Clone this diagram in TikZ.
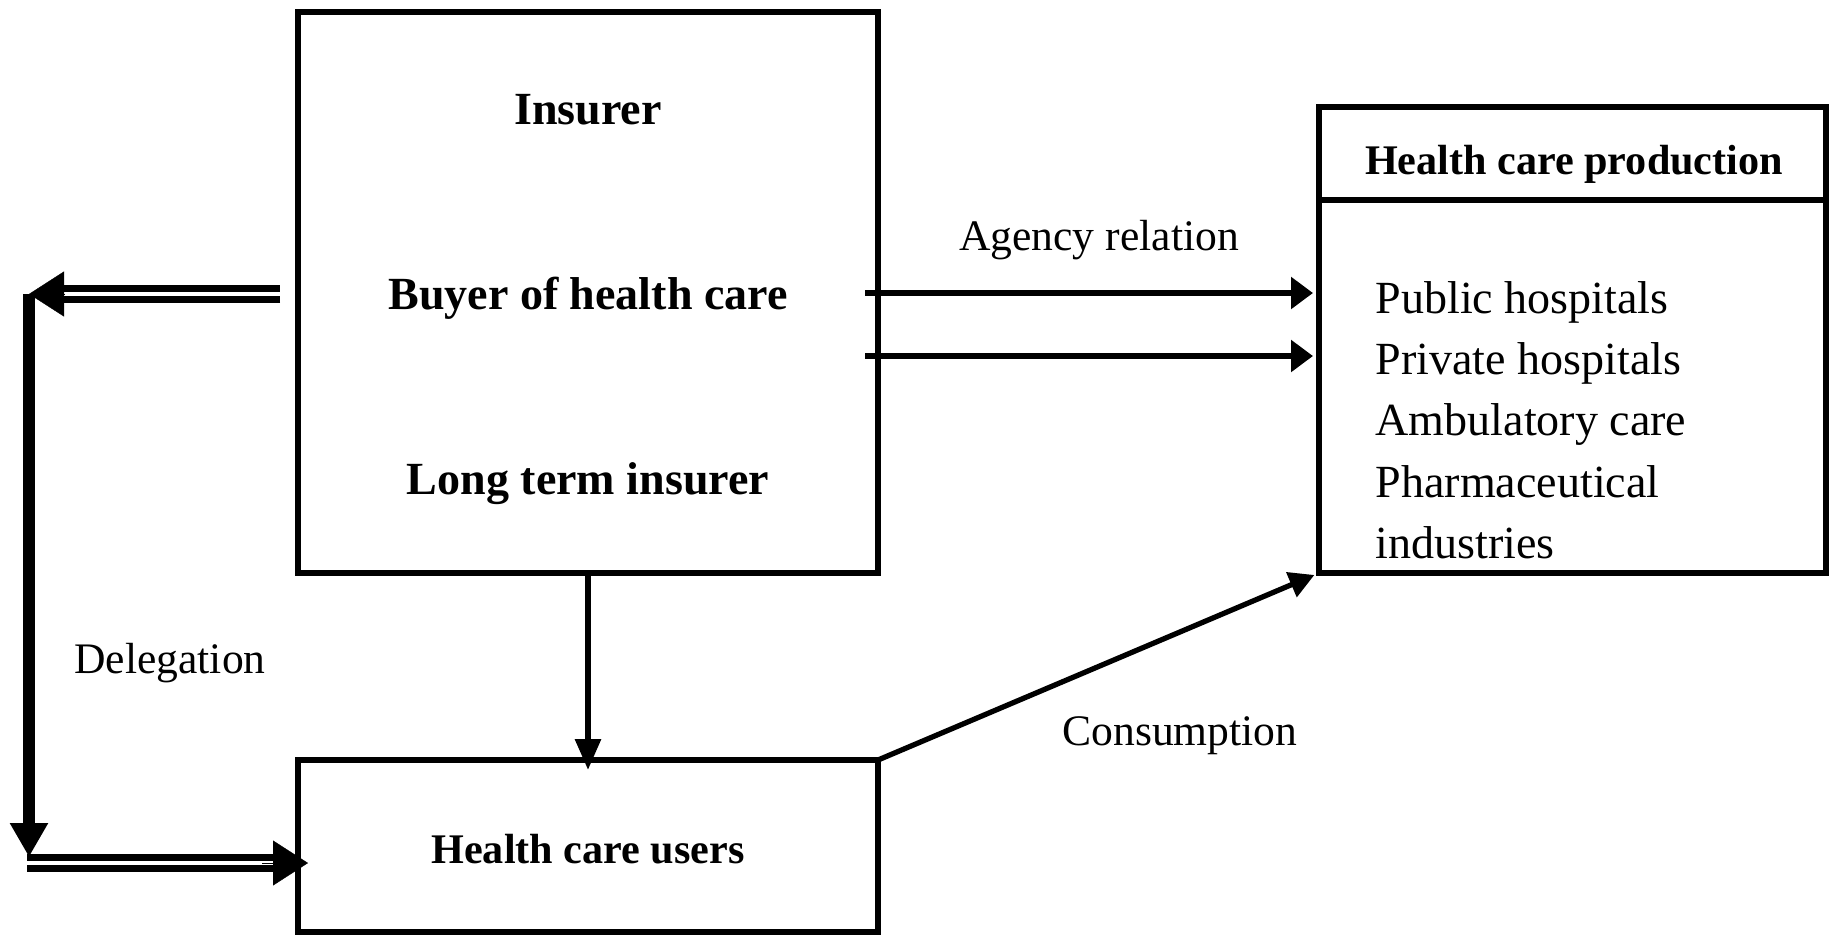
\documentclass[tikz,border=0pt]{standalone}
\usepackage{fontspec}
\setmainfont{Liberation Serif}
\usetikzlibrary{arrows.meta}

\begin{document}
\begin{tikzpicture}[x=0.1mm,y=-0.1mm,
  box/.style={draw,line width=1.6pt,inner sep=0pt,outer sep=0pt},
  title/.style={font=\fontsize{13.1}{16}\selectfont\bfseries,anchor=base,inner sep=0pt},
  subtitle/.style={font=\fontsize{12}{15}\selectfont\bfseries,anchor=base,inner sep=0pt},
  lbl/.style={font=\fontsize{12.4}{15}\selectfont,anchor=base,inner sep=0pt},
  arr/.style={line width=1.7pt,-{Triangle[length=2.2mm,width=3.1mm]}},
  dline/.style={double,line width=1.8pt,double distance=1.3pt},
  tip/.style={line width=0.1pt,-{Triangle[length=3.5mm,width=4.5mm]}}]
\useasboundingbox (0,0) rectangle (1829,934);
% boxes
\node[box,minimum width=58mm,minimum height=56.1mm] (insurer) at (588,292.5) {};
\node[box,minimum width=58mm,minimum height=17.2mm] (users) at (588,846) {};
\node[box,minimum width=50.7mm,minimum height=46.6mm] (prod) at (1572.5,340) {};
\draw[line width=1.6pt] (prod.west |- 0,200) -- (prod.east |- 0,200);
% texts
\node[title] (ins) at (588,124) {Insurer};
\node[title] (buyer) at (588,309) {Buyer of health care};
\node[title] (lterm) at (588,494) {Long term insurer};
\node[subtitle] (usr) at (588,863) {Health care users};
\node[subtitle] (prodtitle) at (1574,174) {Health care production};
\node[lbl,anchor=north west,align=left,font=\fontsize{13.1}{17.4}\selectfont] (plist) at (1375,281)
  {Public hospitals\\Private hospitals\\Ambulatory care\\Pharmaceutical\\industries};
\node[lbl] (agency) at (1099,250) {Agency relation};
\node[lbl] (cons) at (1180,745) {Consumption};
\node[lbl] (deleg) at (170,673) {Delegation};
% delegation
\coordinate (dtop) at (29,294);
\coordinate (dbot) at (29,863);
\coordinate (uin) at (users.west |- dbot);
\draw[dline,shorten <=1.8mm,shorten >=3.2mm] (insurer.west |- dtop) -- (dtop);
\draw[tip] ([xshift=3.6mm]dtop) -- (dtop);
\draw[line width=3.4pt,-{Triangle[length=3.4mm,width=3.6mm]},shorten >=0.6mm] (dtop) -- (dbot);
\draw[dline,shorten <=-0.2mm,shorten >=1.3mm] (dbot) -- (uin);
\draw[tip,shorten >=-1mm] ([xshift=-3.6mm]uin) -- (uin);
% agency, consumption
\draw[arr,shorten <=-1.3mm,shorten >=0.6mm] (insurer.east |- 0,293) -- (prod.west |- 0,293);
\draw[arr,shorten <=-1.3mm,shorten >=0.6mm] (insurer.east |- 0,356) -- (prod.west |- 0,356);
\draw[line width=1.5pt,-{Triangle[length=2.5mm,width=2.6mm]},shorten >=0.5mm] (users.north east) -- (prod.south west);
\draw[line width=1.7pt,-{Triangle[length=3.1mm,width=2.5mm]},shorten >=-1mm] (insurer.south) -- (users.north);
\end{tikzpicture}
\end{document}
